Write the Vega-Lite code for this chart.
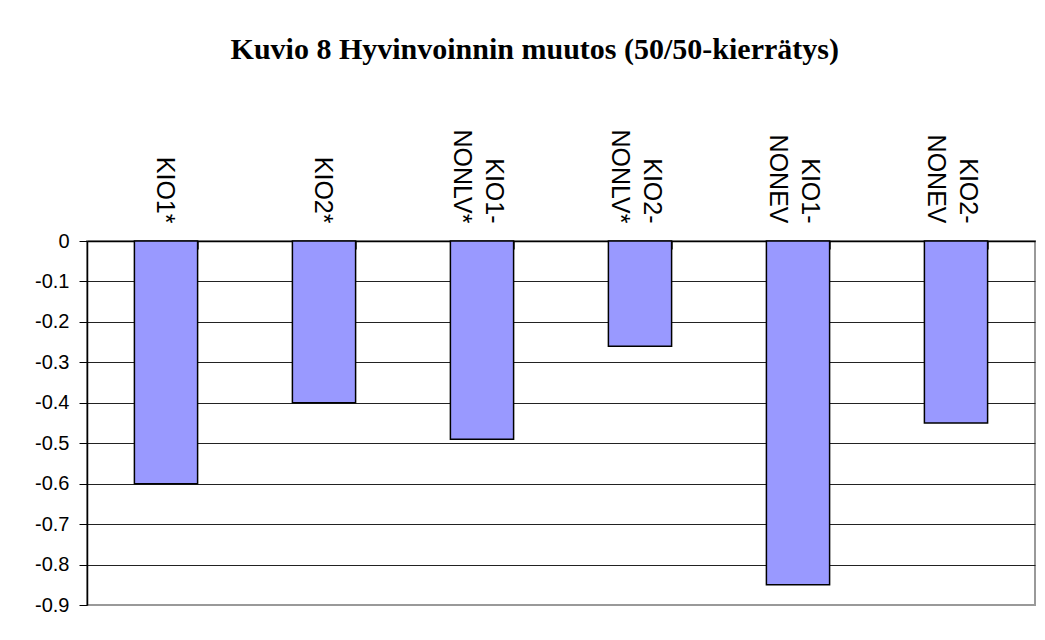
{
  "$schema": "https://vega.github.io/schema/vega-lite/v6.json",
  "width": 948,
  "height": 364,
  "autosize": {"type": "none"},
  "padding": {"left": 87, "top": 241, "right": 10, "bottom": 35},
  "background": "white",
  "title": {
    "text": "Kuvio 8 Hyvinvoinnin muutos (50/50-kierrätys)",
    "font": "Liberation Serif",
    "fontSize": 30,
    "fontWeight": "bold",
    "color": "black",
    "anchor": "middle",
    "frame": "bounds",
    "offset": 64
  },
  "data": {
    "values": [
      {"category": "KIO1*", "value": -0.6},
      {"category": "KIO2*", "value": -0.4},
      {"category": "KIO1-NONLV*", "value": -0.49},
      {"category": "KIO2-NONLV*", "value": -0.26},
      {"category": "KIO1-NONEV", "value": -0.85},
      {"category": "KIO2-NONEV", "value": -0.45}
    ]
  },
  "mark": {"type": "bar", "fill": "#9999FF", "stroke": "black", "strokeWidth": 1.5},
  "encoding": {
    "x": {
      "field": "category",
      "type": "nominal",
      "sort": null,
      "scale": {"paddingInner": 0.6, "paddingOuter": 0.3},
      "axis": {
        "orient": "top",
        "title": null,
        "labelAngle": 90,
        "labelExpr": "split(replace(datum.label, '-', '-|'), '|')",
        "labelFont": "Liberation Sans",
        "labelFontSize": 25,
        "labelLineHeight": 32,
        "labelColor": "black",
        "labelLimit": 0,
        "labelOverlap": false,
        "labelPadding": 26,
        "labelOffset": {"condition": {"test": "indexof(datum.label, '-') >= 0", "value": 11}, "value": -2},
        "tickBand": "extent",
        "tickSize": -8,
        "tickColor": "#555",
        "domainColor": "black",
        "domainWidth": 1.5,
        "grid": false
      }
    },
    "y": {
      "field": "value",
      "type": "quantitative",
      "scale": {"domain": [-0.9, 0], "nice": false, "zero": false},
      "axis": {
        "title": null,
        "values": [0, -0.1, -0.2, -0.3, -0.4, -0.5, -0.6, -0.7, -0.8, -0.9],
        "labelExpr": "datum.value == 0 ? '0' : '-' + format(-datum.value, '.1f')",
        "labelFont": "Liberation Sans",
        "labelFontSize": 20,
        "labelColor": "black",
        "labelPadding": 10,
        "tickSize": 8,
        "tickColor": "black",
        "domainColor": "black",
        "domainWidth": 1.5,
        "grid": true,
        "gridColor": {"condition": {"test": "datum.value == -0.9", "value": "#999999"}, "value": "#222222"},
        "gridWidth": 1
      }
    }
  },
  "config": {
    "view": {"stroke": "#999999", "strokeWidth": 2}
  }
}
